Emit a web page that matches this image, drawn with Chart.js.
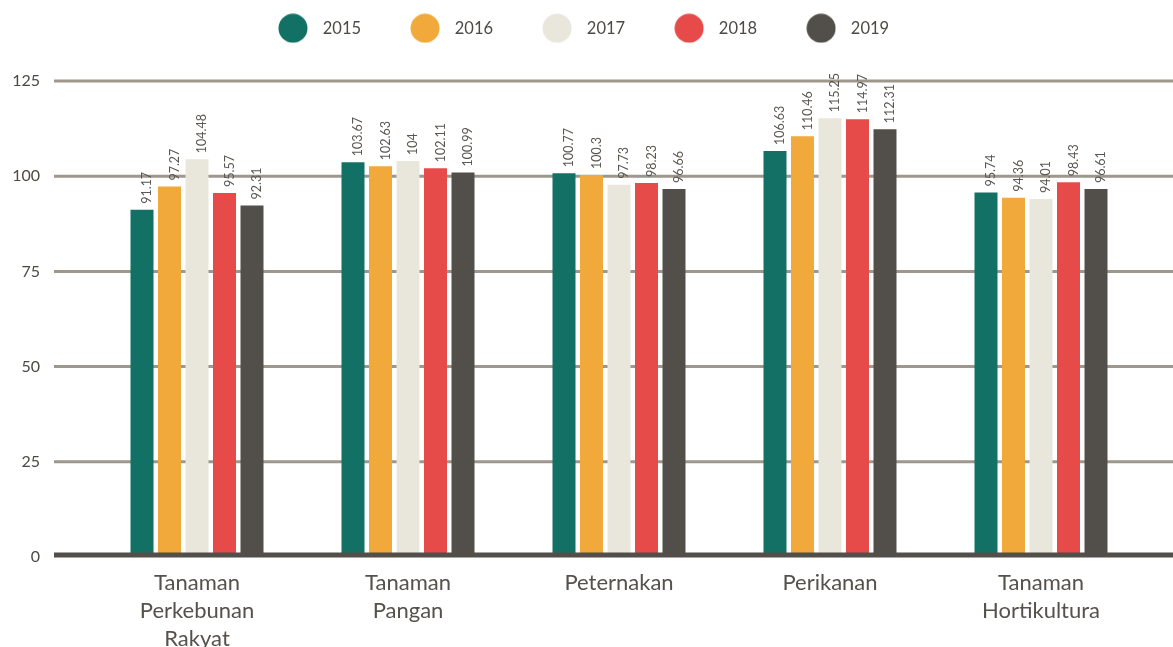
<!DOCTYPE html>
<html><head><meta charset="utf-8">
<script src="https://cdn.jsdelivr.net/npm/chart.js@4.4.1/dist/chart.umd.min.js"></script>
<style>html,body{margin:0;padding:0;background:#fff;}canvas{display:block;}</style>
</head><body>
<canvas id="c" width="1173" height="647"></canvas>
<script>
const categories = [["Tanaman","Perkebunan","Rakyat"],["Tanaman","Pangan"],["Peternakan"],["Perikanan"],["Tanaman","Hortikultura"]];
const years = ["2015","2016","2017","2018","2019"];
const values2015 = [91.17,103.67,100.77,106.63,95.74];
const values2016 = [97.27,102.63,100.3,110.46,94.36];
const values2017 = [104.48,104,97.73,115.25,94.01];
const values2018 = [95.57,102.11,98.23,114.97,98.43];
const values2019 = [92.31,100.99,96.66,112.31,96.61];
const yTicks = [0,25,50,75,100,125];
const colors = ['#127064','#f2a93b','#e9e6dc','#e64b4a','#524e49'];

Chart.defaults.font.family = 'Lato';
const textColor = '#55514c';

function dot(color){
  const c=document.createElement('canvas'); c.width=30; c.height=30;
  const g=c.getContext('2d'); g.fillStyle=color; g.beginPath(); g.arc(15,15,14.5,0,Math.PI*2); g.fill();
  return c;
}
const dots = colors.map(dot);

const seriesValues = [values2015,values2016,values2017,values2018,values2019];

const gridPlugin = {
  id:'gridExt',
  beforeDatasetsDraw(chart){
    const ctx=chart.ctx, y=chart.scales.y;
    ctx.save();
    ctx.strokeStyle='#9d978d'; ctx.lineWidth=3;
    yTicks.filter(v=>v>0).forEach(v=>{
      const py=y.getPixelForValue(v);
      ctx.beginPath(); ctx.moveTo(54,py); ctx.lineTo(chart.width,py); ctx.stroke();
    });
    ctx.restore();
  },
  afterDatasetsDraw(chart){
    const ctx=chart.ctx, y=chart.scales.y;
    ctx.save();
    ctx.strokeStyle='#524e49'; ctx.lineWidth=5;
    const py=y.getPixelForValue(0)-2;
    ctx.beginPath(); ctx.moveTo(54,py); ctx.lineTo(chart.width,py); ctx.stroke();
    ctx.fillStyle='#5a5651'; ctx.font='12.5px Lato';
    chart.data.datasets.forEach((ds,i)=>{
      chart.getDatasetMeta(i).data.forEach((bar,j)=>{
        ctx.save();
        ctx.translate(bar.x+5, bar.y-6);
        ctx.rotate(-Math.PI/2);
        ctx.textAlign='left'; ctx.textBaseline='middle';
        ctx.fillText(String(ds.data[j]),0,0);
        ctx.restore();
      });
    });
    ctx.restore();
  }
};

const legendPos = {
  id:'legendPos',
  afterLayout(chart){
    const L=chart.legend; if(!L) return;
    const h=L.height;
    L.left=229; L.right=chart.width; L.width=L.right-L.left;
    L.top=-22.5; L.bottom=L.top+h;
  }
};

new Chart(document.getElementById('c'), {
  type:'bar',
  data:{
    labels:categories,
    datasets: years.map((yr,i)=>({
      label:yr, data:seriesValues[i], backgroundColor:colors[i], borderWidth:0,
      barPercentage:0.836, categoryPercentage:0.6517
    }))
  },
  options:{
    responsive:false, animation:false, events:[],
    layout:{padding:{top:12,right:26.5,left:0,bottom:0}},
    plugins:{
      tooltip:{enabled:false},
      legend:{
        position:'top', align:'start',
        labels:{
          usePointStyle:true, pointStyleWidth:43, padding:42.5,
          font:{size:16.5}, color:'#4d4a45',
          generateLabels(chart){
            const items=Chart.defaults.plugins.legend.labels.generateLabels(chart);
            items.forEach((it,i)=>{it.pointStyle=dots[i];});
            return items;
          }
        }
      }
    },
    scales:{
      x:{
        grid:{display:false, drawTicks:false}, border:{display:false},
        ticks:{font:{size:22, lineHeight:1.27}, color:textColor, padding:12, maxRotation:0, autoSkip:false},
        afterFit(s){ s.height=90; }
      },
      y:{
        min:0, max:125,
        grid:{display:false, drawTicks:false}, border:{display:false},
        ticks:{stepSize:25, font:{size:16}, color:'#4d4a45', padding:51.5},
        afterFit(s){ s.width=91.5; }
      }
    }
  },
  plugins:[gridPlugin, legendPos]
});
</script>
</body></html>
